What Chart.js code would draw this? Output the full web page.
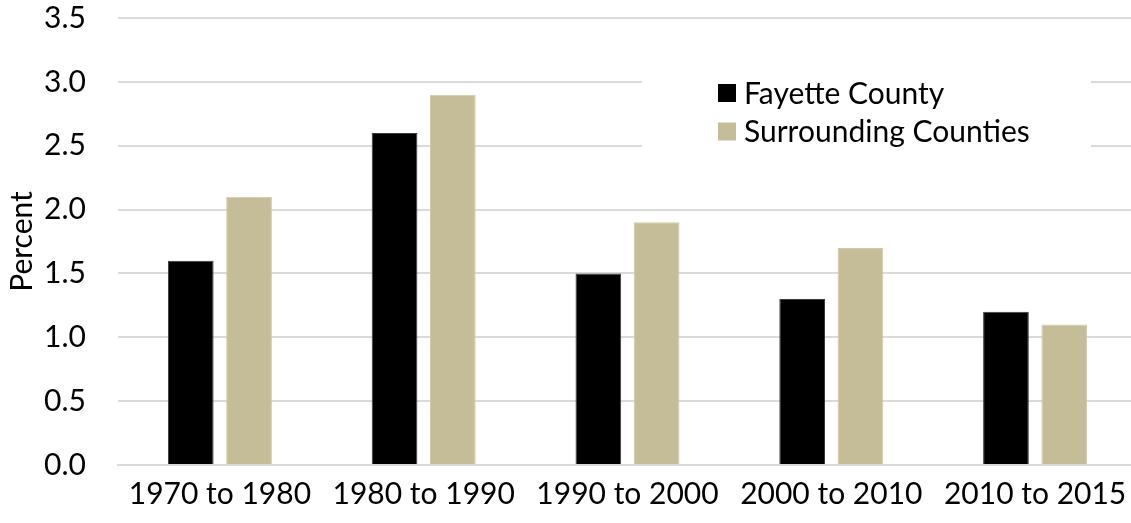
<!DOCTYPE html>
<html>
<head>
<meta charset="utf-8">
<script src="https://cdn.jsdelivr.net/npm/chart.js@4/dist/chart.umd.min.js"></script>
<style>
  html, body { margin: 0; padding: 0; background: #ffffff; overflow: hidden; }
  /* the plot runs a few pixels past the right edge of the frame */
  #wrap { width: 1131px; height: 523px; position: relative; overflow: hidden; }
  #c { display: block; }
</style>
</head>
<body>
<div id="wrap"><canvas id="c" width="1137" height="523"></canvas></div>
<script>
const periods = ['1970 to 1980', '1980 to 1990', '1990 to 2000', '2000 to 2010', '2010 to 2015'];
const fayetteCounty = [1.6, 2.6, 1.5, 1.3, 1.2];
const surroundingCounties = [2.1, 2.9, 1.9, 1.7, 1.1];
const seriesNames = ['Fayette County', 'Surrounding Counties'];
const yTicks = [0, 0.5, 1.0, 1.5, 2.0, 2.5, 3.0, 3.5];

const FONT = 'Lato, "Open Sans", sans-serif';
const FONT_SIZE = 30;
const BLACK = '#000000';
const TAN = '#c4bd97';
const GRID = '#dadada';

// Legend drawn inside the plot on a white panel
const insideLegend = {
  id: 'insideLegend',
  afterDatasetsDraw(chart) {
    const ctx = chart.ctx;
    ctx.save();
    ctx.fillStyle = '#ffffff';
    ctx.fillRect(642, 70, 449, 82);
    ctx.font = FONT_SIZE + 'px ' + FONT;
    ctx.textBaseline = 'middle';
    chart.data.datasets.forEach((ds, i) => {
      const cy = 93 + i * 38.5;
      ctx.fillStyle = ds.backgroundColor;
      ctx.fillRect(718, cy - 9, 18, 18);
      ctx.fillStyle = '#000000';
      ctx.fillText(ds.label, 744, cy + 1);
    });
    ctx.restore();
  }
};

new Chart(document.getElementById('c'), {
  type: 'bar',
  data: {
    labels: periods,
    datasets: [
      { label: seriesNames[0], data: fayetteCounty, backgroundColor: BLACK, borderColor: '#3a3a3a', borderWidth: 1 },
      { label: seriesNames[1], data: surroundingCounties, backgroundColor: TAN, borderColor: '#cfc9a8', borderWidth: 1 }
    ]
  },
  options: {
    responsive: false,
    animation: false,
    devicePixelRatio: 1,
    layout: { padding: { top: 18, right: 0, left: 0, bottom: 0 } },
    categoryPercentage: 0.572,
    barPercentage: 0.784,
    plugins: {
      legend: { display: false },
      tooltip: { enabled: false }
    },
    scales: {
      x: {
        grid: { display: false, drawTicks: false },
        border: { display: true, color: GRID, width: 2 },
        ticks: { color: '#000000', font: { family: FONT, size: FONT_SIZE }, padding: 11, maxRotation: 0 },
        afterFit(s) { s.height = 58; s.paddingLeft = 0; s.paddingRight = 0; }
      },
      y: {
        min: 0,
        max: 3.5,
        afterBuildTicks(s) { s.ticks = yTicks.map(v => ({ value: v })); },
        grid: { color: GRID, lineWidth: 2, drawTicks: false },
        border: { display: false },
        ticks: {
          color: '#000000',
          font: { family: FONT, size: FONT_SIZE },
          padding: 32,
          callback: v => Number(v).toFixed(1)
        },
        title: {
          display: true,
          text: 'Percent',
          color: '#000000',
          font: { family: FONT, size: FONT_SIZE },
          padding: { top: 4, bottom: 0 }
        },
        afterFit(s) { s.width = 118; s.paddingTop = 0; s.paddingBottom = 0; }
      }
    }
  },
  plugins: [insideLegend]
});
</script>
</body>
</html>
